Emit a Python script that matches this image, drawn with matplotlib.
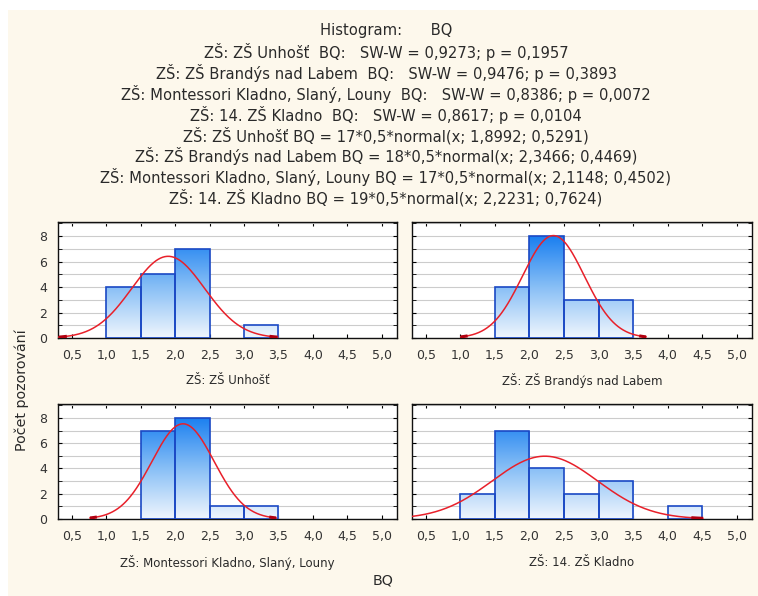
import matplotlib
matplotlib.use("Agg")
import matplotlib.pyplot as plt
import numpy as np
from matplotlib.colors import LinearSegmentedColormap
from matplotlib.patches import Rectangle

plt.rcParams["font.family"] = ["DejaVu Sans"]

# bin left edges (width 0.5)
BIN_LEFT = [1.0, 1.5, 2.0, 2.5, 3.0, 3.5, 4.0, 4.5]
BIN_WIDTH = 0.5

GROUPS = [
    "ZŠ: ZŠ Unhošť",
    "ZŠ: ZŠ Brandýs nad Labem",
    "ZŠ: Montessori Kladno, Slaný, Louny",
    "ZŠ: 14. ZŠ Kladno",
]
COUNTS_UNHOST = [4, 5, 7, 0, 1, 0, 0, 0]
COUNTS_BRANDYS = [0, 4, 8, 3, 3, 0, 0, 0]
COUNTS_MONTESSORI = [0, 7, 8, 1, 1, 0, 0, 0]
COUNTS_KLADNO = [2, 7, 4, 2, 3, 0, 1, 0]
COUNTS = [COUNTS_UNHOST, COUNTS_BRANDYS, COUNTS_MONTESSORI, COUNTS_KLADNO]

# fitted normal: N, mean, sd
FIT_N = [17, 18, 17, 19]
FIT_MEAN = [1.8992, 2.3466, 2.1148, 2.2231]
FIT_SD = [0.5291, 0.4469, 0.4502, 0.7624]

X_TICKS = [0.5, 1.0, 1.5, 2.0, 2.5, 3.0, 3.5, 4.0, 4.5, 5.0]
X_TICKLABELS = ["0,5", "1,0", "1,5", "2,0", "2,5", "3,0", "3,5", "4,0", "4,5", "5,0"]
Y_TICKS = [0, 2, 4, 6, 8]

TITLE_LINES = [
    "Histogram:      BQ",
    "ZŠ: ZŠ Unhošť  BQ:   SW-W = 0,9273; p = 0,1957",
    "ZŠ: ZŠ Brandýs nad Labem  BQ:   SW-W = 0,9476; p = 0,3893",
    "ZŠ: Montessori Kladno, Slaný, Louny  BQ:   SW-W = 0,8386; p = 0,0072",
    "ZŠ: 14. ZŠ Kladno  BQ:   SW-W = 0,8617; p = 0,0104",
    "ZŠ: ZŠ Unhošť BQ = 17*0,5*normal(x; 1,8992; 0,5291)",
    "ZŠ: ZŠ Brandýs nad Labem BQ = 18*0,5*normal(x; 2,3466; 0,4469)",
    "ZŠ: Montessori Kladno, Slaný, Louny BQ = 17*0,5*normal(x; 2,1148; 0,4502)",
    "ZŠ: 14. ZŠ Kladno BQ = 19*0,5*normal(x; 2,2231; 0,7624)",
]

W, H = 758, 596
CREAM = "#fdf8ec"
EDGE = "#1a48c4"
TEXT = "#2a2a2a"
GRAD = LinearSegmentedColormap.from_list("bar", ["#f0f6fd", "#88bff6", "#1a7ff0"])


def px_axes(left, top, right, bottom):
    return [left / W, 1 - bottom / H, (right - left) / W, (bottom - top) / H]


fig = plt.figure(figsize=(W / 100, H / 100), dpi=100)
fig.patch.set_facecolor("white")
fig.patches.append(Rectangle((8 / W, 0), 1, (H - 10) / H, transform=fig.transFigure,
                             facecolor=CREAM, edgecolor="none", zorder=-10))

for i, line in enumerate(TITLE_LINES):
    fig.text(386 / W, 1 - (31 + i * 20.9) / H, line, ha="center", va="center",
             fontsize=10.6, color=TEXT)

boxes = [
    (58, 222, 397, 338),
    (412, 222, 752, 338),
    (58, 404, 397, 519),
    (412, 404, 752, 519),
]
label_y = [381, 381, 563, 563]

for k, (name, counts) in enumerate(zip(GROUPS, COUNTS)):
    ax = fig.add_axes(px_axes(*boxes[k]))
    ax.set_facecolor("white")
    lefts = [x for x, c in zip(BIN_LEFT, counts) if c > 0]
    heights = [c for c in counts if c > 0]
    bars = ax.bar(lefts, heights, width=BIN_WIDTH, align="edge",
                  facecolor="none", edgecolor=EDGE, linewidth=1.2, zorder=3)
    grad = np.linspace(0, 1, 256).reshape(-1, 1)
    for left, patch in zip(lefts, bars.patches):
        im = ax.imshow(grad, extent=(left, left + BIN_WIDTH, 0, 8), origin="lower",
                       aspect="auto", cmap=GRAD, zorder=2, interpolation="bilinear")
        im.set_clip_path(patch)

    xs = np.linspace(FIT_MEAN[k] - 3 * FIT_SD[k], FIT_MEAN[k] + 3 * FIT_SD[k], 300)
    ys = FIT_N[k] * BIN_WIDTH * np.exp(-0.5 * ((xs - FIT_MEAN[k]) / FIT_SD[k]) ** 2) \
        / (FIT_SD[k] * np.sqrt(2 * np.pi))
    ax.plot(xs, ys, color="#e8202a", lw=1.1, zorder=4)
    # darker stubs at the curve ends, like the original export
    ax.plot(xs[:12], ys[:12], color="#b00010", lw=2.2, zorder=4, solid_capstyle="butt")
    ax.plot(xs[-12:], ys[-12:], color="#b00010", lw=2.2, zorder=4, solid_capstyle="butt")

    ax.set_xlim(0.3, 5.22)
    ax.set_ylim(0, 9.1)
    ax.set_xticks(X_TICKS)
    ax.set_xticklabels(X_TICKLABELS)
    ax.set_yticks(Y_TICKS)
    ax.set_yticks(range(0, 10), minor=True)
    ax.grid(True, axis="y", which="both", color="#cccccc", lw=0.8, zorder=0)
    ax.set_axisbelow(True)
    ax.tick_params(which="both", direction="in", top=True, right=True, length=3,
                   labelsize=9, labelcolor="#333333", pad=8)
    if k % 2 == 1:
        ax.tick_params(labelleft=False)
    for sp in ax.spines.values():
        sp.set_color("#111111")
        sp.set_linewidth(1.0)
    cx = (boxes[k][0] + boxes[k][2]) / 2
    fig.text(cx / W, 1 - label_y[k] / H, name, ha="center", va="center",
             fontsize=8.5, color=TEXT)

fig.text(22 / W, 1 - 390 / H, "Počet pozorování", rotation=90, ha="center", va="center",
         fontsize=10.3, color=TEXT)
fig.text(383 / W, 1 - 580 / H, "BQ", ha="center", va="center", fontsize=10.3, color=TEXT)

fig.savefig("out.png", dpi=100)
